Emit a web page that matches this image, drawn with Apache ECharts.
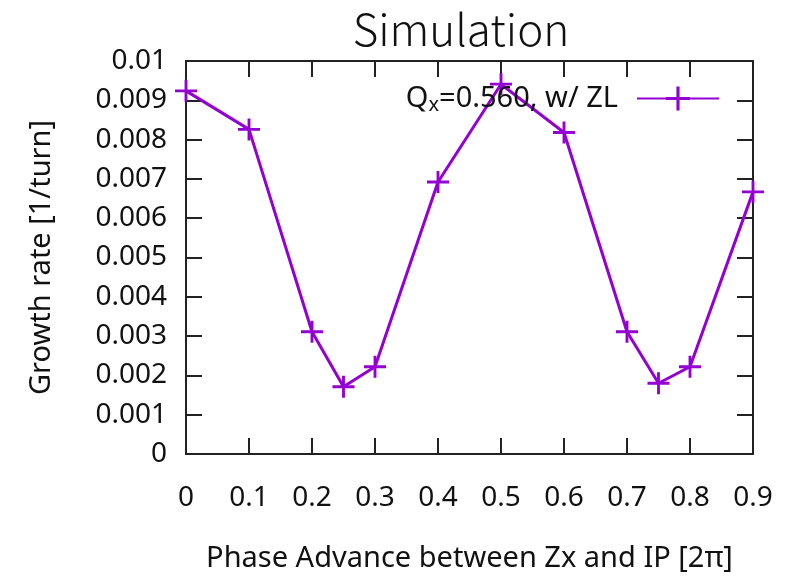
<!DOCTYPE html>
<html><head><meta charset="utf-8">
<script src="https://cdn.jsdelivr.net/npm/echarts@6/dist/echarts.min.js"></script>
<style>html,body{margin:0;padding:0;background:#fff}#c{width:791px;height:579px}</style>
</head><body><div id="c"></div>
<script>
const phase = [0, 0.1, 0.2, 0.25, 0.3, 0.4, 0.5, 0.6, 0.7, 0.75, 0.8, 0.9];
const growth = [0.00924, 0.00826, 0.00311, 0.00171, 0.00222, 0.00692, 0.00941, 0.00818, 0.00311, 0.00180, 0.00222, 0.00667];
const yTicks = ['0','0.001','0.002','0.003','0.004','0.005','0.006','0.007','0.008','0.009','0.01'];
const xTicks = ['0','0.1','0.2','0.3','0.4','0.5','0.6','0.7','0.8','0.9'];
const FONT = '"Noto Sans", "Open Sans", sans-serif';
const TFONT = '"Noto Sans CJK SC", "Noto Sans", sans-serif';
const purple = '#9400D3';
const plus = 'path://M-1,-0.13H1V0.13H-1Z M-0.13,-1H0.13V1H-0.13Z';

const chart = echarts.init(document.getElementById('c'), null, {renderer: 'canvas'});
const axisCommon = {
  axisLine: {show: true, onZero: false, lineStyle: {color: '#222', width: 2}},
  axisTick: {show: true, inside: true, length: 16, lineStyle: {color: '#222', width: 2}},
  splitLine: {show: false}
};
chart.setOption({
  animation: false,
  backgroundColor: '#fff',
  title: {text: 'Simulation', left: 456, textAlign: 'center', top: 2,
    textStyle: {fontFamily: TFONT, fontSize: 44, fontWeight: 300, color: '#111'}},
  grid: {left: 186, right: 38, top: 61, bottom: 125, show: false},
  legend: {
    right: 71, top: 84, padding: 0, align: 'right', itemWidth: 82, itemHeight: 30, itemGap: 10,
    data: [{name: 'Qx=0.560, w/ ZL'}],
    formatter: () => '{a|Q}{s|x}{a|=0.560, w/ ZL}',
    textStyle: {padding: [0, 14, 0, 0], rich: {
      a: {fontFamily: FONT, fontSize: 29, color: '#111'},
      s: {fontFamily: FONT, fontSize: 20, color: '#111', verticalAlign: 'bottom', padding: [14, 0, 0, 0]}
    }}
  },
  xAxis: [{
    type: 'value', min: 0, max: 0.9, interval: 0.1, position: 'bottom',
    name: 'Phase Advance between Zx and IP [2π]', nameLocation: 'middle', nameGap: 90,
    nameTextStyle: {fontFamily: FONT, fontSize: 29, color: '#111'},
    axisLabel: {fontFamily: FONT, fontSize: 28, color: '#111', margin: 30,
      formatter: v => xTicks[Math.round(v * 10)]},
    ...axisCommon
  }, {
    type: 'value', min: 0, max: 0.9, interval: 0.1, position: 'top',
    axisLabel: {show: false}, ...axisCommon
  }],
  yAxis: [{
    type: 'value', min: 0, max: 0.01, interval: 0.001, position: 'left',
    name: 'Growth rate [1/turn]', nameLocation: 'middle', nameGap: 130,
    nameTextStyle: {fontFamily: FONT, fontSize: 29, color: '#111'},
    axisLabel: {fontFamily: FONT, fontSize: 28, color: '#111', margin: 19,
      formatter: v => yTicks[Math.round(v * 1000)]},
    ...axisCommon
  }, {
    type: 'value', min: 0, max: 0.01, interval: 0.001, position: 'right',
    axisLabel: {show: false}, ...axisCommon
  }],
  series: [{
    name: 'Qx=0.560, w/ ZL', type: 'line',
    data: phase.map((p, i) => [p, growth[i]]),
    symbol: plus, symbolSize: 22,
    lineStyle: {color: purple, width: 3},
    itemStyle: {color: purple},
    clip: false
  }]
});
</script></body></html>
